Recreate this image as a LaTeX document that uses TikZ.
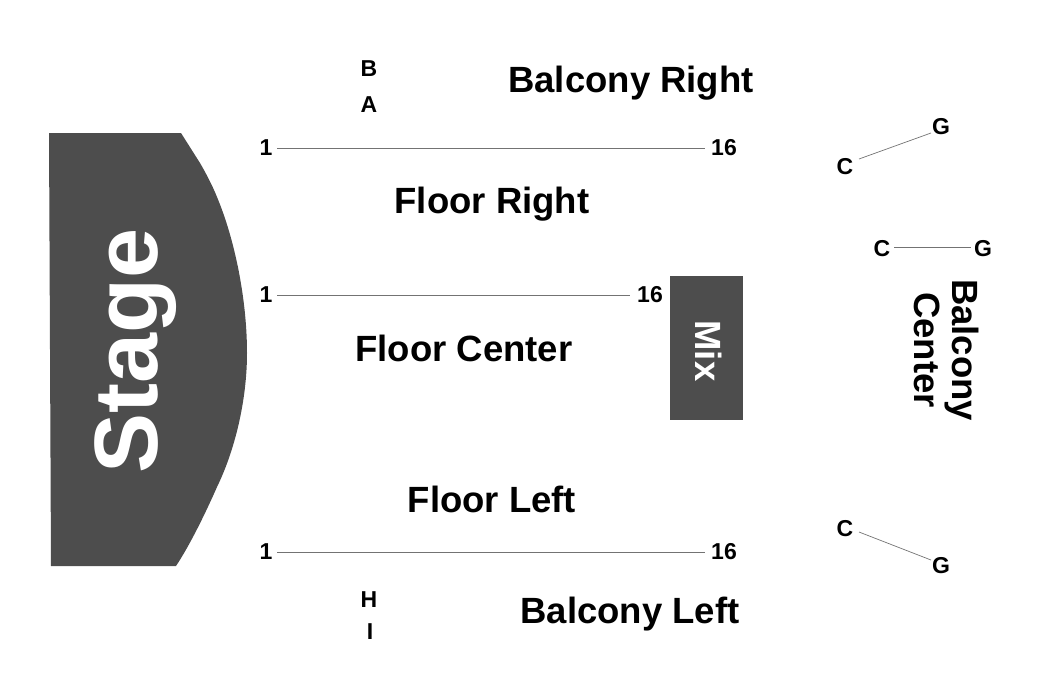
\documentclass[tikz,border=0pt]{standalone}
\usepackage{fontspec}
\setmainfont{Liberation Sans}
\definecolor{stagegray}{HTML}{4D4D4D}
\tikzset{
  seat/.style={font=\fontsize{23}{25}\selectfont\bfseries, inner sep=0pt},
  zone/.style={font=\fontsize{36.5}{38}\selectfont\bfseries, inner sep=0pt},
  cable/.style={draw=black!55, line width=0.7pt}
}
\begin{document}
\begin{tikzpicture}[x=1pt,y=-1pt]
    \useasboundingbox (0,0) rectangle (1050,686);
    \fill[stagegray] (49,133) -- (181,133) -- (200,163) .. controls (207,175) and (213,187) .. (217,197) .. controls (235,240) and (247,300) .. (247,353) .. controls (247,400) and (235,450) .. (217,487) .. controls (206,512) and (190,545) .. (176,566) -- (51,566) -- cycle;
    \node[font=\fontsize{90}{92}\selectfont\bfseries, text=white, rotate=90, inner sep=0pt] (stage) at (136,351) {Stage};
    \node[fill=stagegray, minimum width=73pt, minimum height=144pt, inner sep=0pt] (mixbox) at (706,348) {};
    \node[font=\fontsize{36.5}{38}\selectfont\bfseries, text=white, rotate=-90, inner sep=0pt] (mix) at (709,351) {Mix};
    % rows
    \node[seat] (fr1) at (266,148) {1};
    \node[seat] (fr16) at (724,148) {16};
    \draw[cable] (fr1) ++(11,0) -- ([xshift=-6pt]fr16.west);
    \node[seat] (fc1) at (266,295) {1};
    \node[seat] (fc16) at (650,295) {16};
    \draw[cable] (fc1) ++(11,0) -- ([xshift=-7pt]fc16.west);
    \node[seat] (fl1) at (266,552) {1};
    \node[seat] (fl16) at (724,552) {16};
    \draw[cable] (fl1) ++(11,0) -- ([xshift=-6pt]fl16.west);
    \node[seat] (b) at (369,69) {B};
    \node[seat] (a) at (369,105) {A};
    \node[seat] (h) at (369,600) {H};
    \node[seat] (i) at (370,632) {I};
    % balcony
    \node[seat] (c1) at (845,167) {C};
    \node[seat] (g1) at (941,127) {G};
    \draw[cable] (c1) ++(14,-8) -- ([shift={(-10,6)}]g1.center);
    \node[seat] (c2) at (882,249) {C};
    \node[seat] (g2) at (983,249) {G};
    \draw[cable] (c2) ++(12,-2) -- ([shift={(-12,-2)}]g2.center);
    \node[seat] (c3) at (845,529) {C};
    \node[seat] (g3) at (941,566) {G};
    \draw[cable] (c3) ++(14,3) -- ([shift={(-10,-6)}]g3.center);
    \node[zone] (balr) at (631,83) {Balcony Right};
    \node[zone] (flr) at (492,204) {Floor Right};
    \node[zone] (flc) at (464,348) {Floor Center};
    \node[zone] (fll) at (492,499) {Floor Left};
    \node[zone] (ball) at (630,614) {Balcony Left};
    \node[zone, rotate=-90, align=center] (balc) at (947,350) {Balcony\\Center};
\end{tikzpicture}
\end{document}
